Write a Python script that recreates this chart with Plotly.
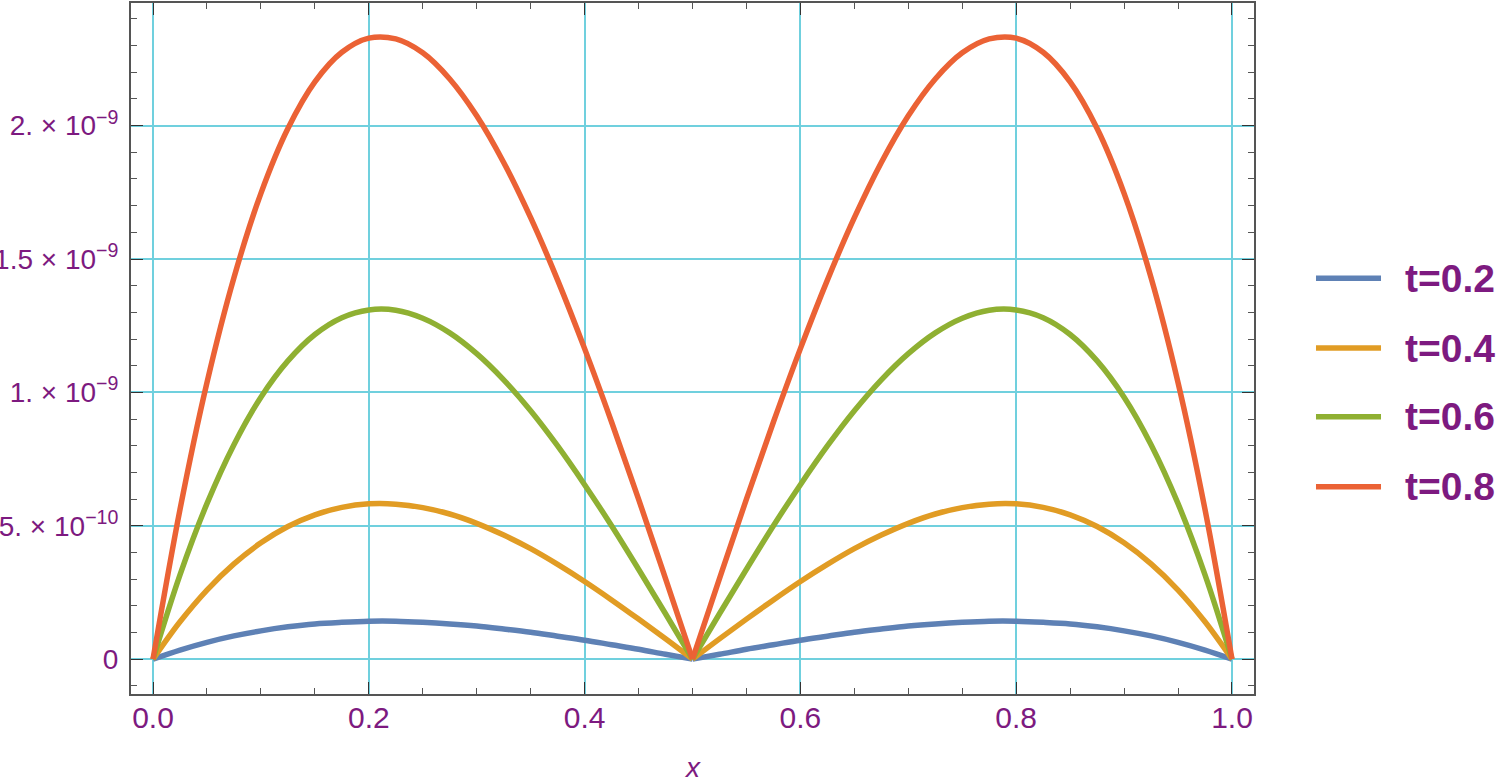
import plotly.graph_objects as go

# x samples and curve values (in units of 1e-9)
x_vals = [0.0, 0.025, 0.05, 0.075, 0.1, 0.125, 0.15, 0.175, 0.2, 0.225, 0.25,
          0.275, 0.3, 0.325, 0.35, 0.375, 0.4, 0.425, 0.45, 0.475, 0.5,
          0.525, 0.55, 0.575, 0.6, 0.625, 0.65, 0.675, 0.7, 0.725, 0.75,
          0.775, 0.8, 0.825, 0.85, 0.875, 0.9, 0.925, 0.95, 0.975, 1.0]

t02 = [0, 0.034, 0.063, 0.087, 0.106, 0.121, 0.132, 0.138, 0.142, 0.142, 0.138,
       0.132, 0.124, 0.113, 0.101, 0.086, 0.071, 0.054, 0.037, 0.018, 0,
       0.018, 0.037, 0.054, 0.071, 0.086, 0.101, 0.113, 0.124, 0.132, 0.138,
       0.142, 0.142, 0.138, 0.132, 0.121, 0.106, 0.087, 0.063, 0.034, 0]
t04 = [0, 0.140, 0.259, 0.357, 0.436, 0.497, 0.541, 0.569, 0.582, 0.581, 0.568,
       0.544, 0.509, 0.465, 0.414, 0.355, 0.291, 0.222, 0.150, 0.076, 0,
       0.076, 0.150, 0.222, 0.291, 0.355, 0.414, 0.465, 0.509, 0.544, 0.568,
       0.581, 0.582, 0.569, 0.541, 0.497, 0.436, 0.357, 0.259, 0.140, 0]
t06 = [0, 0.316, 0.583, 0.804, 0.982, 1.118, 1.217, 1.280, 1.309, 1.308, 1.278,
       1.223, 1.145, 1.047, 0.931, 0.799, 0.654, 0.500, 0.337, 0.170, 0,
       0.170, 0.337, 0.500, 0.654, 0.799, 0.931, 1.047, 1.145, 1.223, 1.278,
       1.308, 1.309, 1.280, 1.217, 1.118, 0.982, 0.804, 0.583, 0.316, 0]
t08 = [0, 0.561, 1.037, 1.430, 1.746, 1.989, 2.164, 2.275, 2.328, 2.325, 2.273,
       2.175, 2.037, 1.862, 1.655, 1.421, 1.164, 0.889, 0.600, 0.302, 0,
       0.302, 0.600, 0.889, 1.164, 1.421, 1.655, 1.862, 2.037, 2.175, 2.273,
       2.325, 2.328, 2.275, 2.164, 1.989, 1.746, 1.430, 1.037, 0.561, 0]

labels = ["t=0.2", "t=0.4", "t=0.6", "t=0.8"]
colors = ["#5e81b5", "#e19c24", "#8fb032", "#eb6235"]

y_tickvals = [0, 0.5, 1.0, 1.5, 2.0]
y_ticktext = ["0", "5. × 10<sup>−10</sup>", "1. × 10<sup>−9</sup>",
              "1.5 × 10<sup>−9</sup>", "2. × 10<sup>−9</sup>"]
x_tickvals = [0.0, 0.2, 0.4, 0.6, 0.8, 1.0]
x_ticktext = ["0.0", "0.2", "0.4", "0.6", "0.8", "1.0"]

PURPLE = "#7d1a80"
GRID = "rgb(112,208,222)"
FONT = "Liberation Sans, Arial, sans-serif"

fig = go.Figure()
mid = x_vals.index(0.5)
for ys, name, c in zip([t02, t04, t06, t08], labels, colors):
    # each arch drawn separately so the cusp at x=0.5 stays sharp
    for sl in (slice(0, mid + 1), slice(mid, None)):
        fig.add_trace(go.Scatter(x=x_vals[sl], y=ys[sl], mode="lines", name=name,
                                 line=dict(color=c, width=5.5, shape="spline",
                                           smoothing=1.0),
                                 showlegend=False))

axis_common = dict(
    showline=True, mirror="allticks", linecolor="#555", linewidth=2,
    ticks="inside", ticklen=12, tickwidth=1.3, tickcolor="#333",
    showgrid=True, gridcolor=GRID, gridwidth=2, zeroline=False,
)

fig.update_xaxes(**axis_common, range=[-0.0204, 1.0204],
                 tickvals=x_tickvals, ticktext=x_ticktext, ticklabelstandoff=-4,
                 tickfont=dict(family=FONT, size=30, color=PURPLE),
                 minor=dict(dtick=0.05, ticks="inside", ticklen=6,
                            tickcolor="#555", showgrid=False))
fig.update_yaxes(**axis_common, range=[-0.1308, 2.4598],
                 tickvals=y_tickvals, ticktext=y_ticktext, ticklabelstandoff=5,
                 tickfont=dict(family=FONT, size=28, color=PURPLE),
                 automargin=False,
                 minor=dict(dtick=0.1, ticks="inside", ticklen=6,
                            tickcolor="#555", showgrid=False))

# legend drawn to the right of the frame
leg_y = [0.6017, 0.5007, 0.4012, 0.3001]
for name, c, ly in zip(labels, colors, leg_y):
    fig.add_shape(type="line", xref="paper", yref="paper",
                  x0=1.0552, x1=1.1131, y0=ly, y1=ly,
                  line=dict(color=c, width=5.5))
    fig.add_annotation(xref="paper", yref="paper", x=1.1327, y=ly,
                       xanchor="left", yanchor="middle", showarrow=False,
                       text="<b>%s</b>" % name,
                       font=dict(family=FONT, size=39, color=PURPLE))

fig.add_annotation(xref="paper", yref="paper", x=0.4996, y=-0.1068,
                   xanchor="center", yanchor="middle", showarrow=False,
                   text="<i>x</i>", font=dict(family=FONT, size=28, color=PURPLE))

fig.update_layout(
    width=1500, height=777,
    plot_bgcolor="white", paper_bgcolor="white",
    margin=dict(l=131, r=246, t=1, b=83),
    showlegend=False,
)

fig.write_html("out.html", config={"displayModeBar": False},
               post_script="document.body.style.margin='0px';"
                           "document.body.style.overflow='hidden';")
